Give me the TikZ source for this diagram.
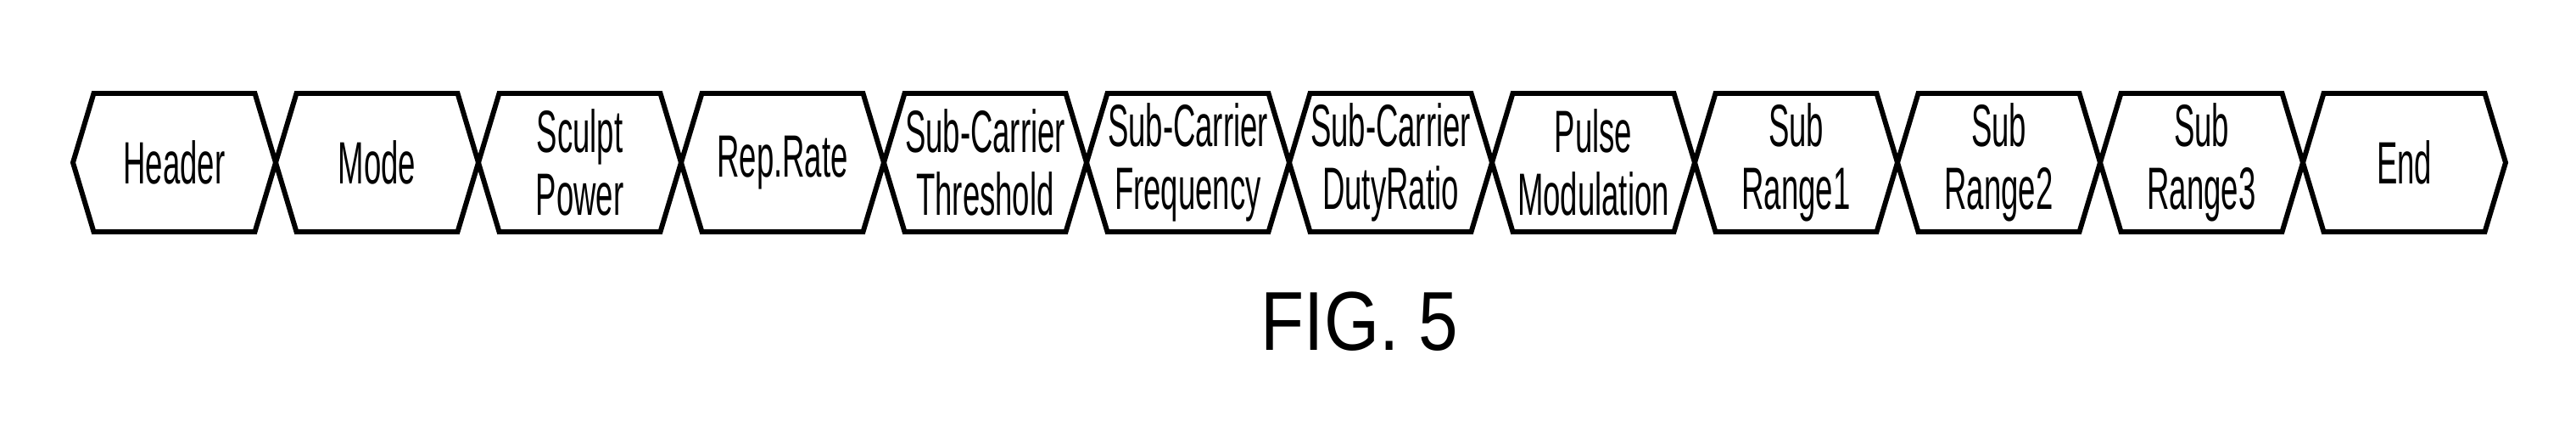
\documentclass[tikz,border=0pt]{standalone}
\usepackage{fontspec}
\usepackage{tikz}
\usetikzlibrary{positioning, calc}
\newfontfamily\fieldfont[FakeStretch=0.52]{Liberation Sans}
\newfontfamily\figfont[FakeStretch=0.85]{Liberation Sans}
\newcommand{\slant}{0.245}

\begin{document}
\begin{tikzpicture}[baseline=(current bounding box.center),
	field/.style={text width=1.9cm, minimum width=1.9cm, minimum height=1.63cm, inner sep=0pt, outer sep=0pt, align=center, font=\fieldfont\fontsize{20}{21}\selectfont},
	frame/.style={line width=1.7pt, line join=miter}]
	\useasboundingbox (0,0) rectangle (30.37,5.17);
	
	\node[field] (hdr) at (2.055,3.255) {Header};
	\node[field, right=0.49cm of hdr] (mode) {Mode};
	\node[field, right=0.49cm of mode] (sculpt) {Sculpt\\Power};
	\node[field, right=0.49cm of sculpt] (rep) {Rep.Rate};
	\node[field, right=0.49cm of rep] (thr) {Sub-Carrier\\Threshold};
	\node[field, right=0.49cm of thr] (freq) {Sub-Carrier\\Frequency};
	\node[field, right=0.49cm of freq] (duty) {Sub-Carrier\\DutyRatio};
	\node[field, right=0.49cm of duty] (pulse) {Pulse\\Modulation};
	\node[field, right=0.49cm of pulse] (rng1) {Sub\\Range1};
	\node[field, right=0.49cm of rng1] (rng2) {Sub\\Range2};
	\node[field, right=0.49cm of rng2] (rng3) {Sub\\Range3};
	\node[field, right=0.49cm of rng3] (end) {End};
	
	\foreach \f in {hdr,mode,sculpt,rep,thr,freq,duty,pulse,rng1,rng2,rng3,end}
		\draw[frame] (\f.north west) -- (\f.north east) -- ($(\f.east)+(\slant,0)$) -- (\f.south east) -- (\f.south west) -- ($(\f.west)+(-\slant,0)$) -- cycle;
	
	\node[font=\figfont\fontsize{28}{30}\selectfont, anchor=base] (fig) at (16.03,1.04) {FIG. 5};
\end{tikzpicture}
\end{document}
